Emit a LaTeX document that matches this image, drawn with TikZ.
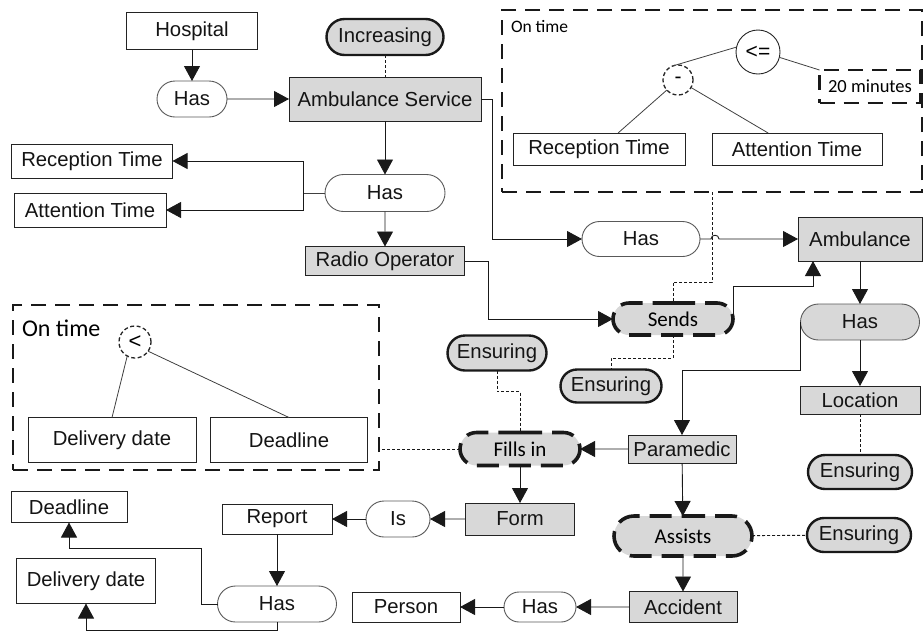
\documentclass[tikz,border=0pt]{standalone}
\usepackage{fontspec}
\setmainfont{Liberation Sans}
\newfontfamily\calib{Carlito}
\usetikzlibrary{arrows.meta,shapes.misc,calc}
\definecolor{boxgray}{RGB}{216,216,216}
\definecolor{edge}{RGB}{35,35,35}

\begin{document}
\begin{tikzpicture}[x=1pt,y=-1pt,
  every node/.style={inner sep=0pt, outer sep=0pt},
  lbl/.style={font=\fontsize{20.3}{24}\selectfont, text=black!92},
  wbox/.style={lbl, rectangle, draw=edge, line width=0.9pt, fill=white},
  gbox/.style={lbl, rectangle, draw=edge, line width=0.9pt, fill=boxgray},
  wpill/.style={lbl, rounded rectangle, draw=black!65, line width=0.9pt, fill=white},
  gpill/.style={lbl, rounded rectangle, draw=black!65, line width=0.9pt, fill=boxgray},
  goal/.style={lbl, rounded rectangle, draw=black!90, line width=2.4pt, fill=boxgray},
  act/.style={rounded rectangle, draw=black!90, line width=3.6pt, dash pattern=on 22pt off 10pt,
    fill=boxgray, font=\calib\fontsize{21}{24}\selectfont},
  frame/.style={rectangle, draw=black!90, line width=2.4pt, dash pattern=on 15pt off 9pt},
  opnode/.style={circle, draw=black!85, line width=0.9pt, font=\fontsize{21}{24}\selectfont},
  opdash/.style={opnode, dash pattern=on 4pt off 2.5pt, line width=1.3pt},
  arr/.style={-{Triangle[length=15pt,width=16pt]}, line width=0.9pt, draw=black!90},
  link/.style={line width=0.9pt, dash pattern=on 3pt off 2pt, draw=black!90},
  tie/.style={line width=0.8pt, draw=black!75},
]
\useasboundingbox (0,0) rectangle (923,630);

% condition frames
\node[frame, minimum width=420pt, minimum height=182pt] (topframe) at (712,101) {};
\node[frame, minimum width=366pt, minimum height=165pt] (leftframe) at (196,387.5) {};

% upper chain
\node[wbox, minimum width=131pt, minimum height=37pt] (hosp) at (192,31) {Hospital};
\node[wpill, minimum width=70pt, minimum height=36pt] (has1) at (192,99) {Has};
\node[goal, minimum width=117pt, minimum height=36pt] (inc) at (385,37) {Increasing};
\node[gbox, minimum width=192pt, minimum height=44pt] (as) at (385,99) {Ambulance Service};
\node[wpill, minimum width=120pt, minimum height=37pt] (has2) at (385,193) {Has};
\node[wbox, minimum width=161pt, minimum height=34pt] (rtl) at (92,161) {Reception Time};
\node[wbox, minimum width=152pt, minimum height=34pt] (atl) at (90,210) {Attention Time};
\node[gbox, minimum width=159pt, minimum height=29pt] (radio) at (385,261) {Radio Operator};

% on-time condition (top)
\node[anchor=west, font=\calib\fontsize{17.5}{20}\selectfont] (ontimeA) at (511,27) {On time};
\node[opnode, minimum size=44pt] (le) at (758,52) {<=};
\node[opdash, minimum size=30pt] (minus) at (678,80) {-};
\node[frame, minimum width=101pt, minimum height=33pt, font=\calib\fontsize{18.5}{20}\selectfont] (tmin) at (870,86.5) {20 minutes};
\node[wbox, minimum width=172pt, minimum height=32pt] (rti) at (599,149) {Reception Time};
\node[wbox, minimum width=170pt, minimum height=32pt] (ati) at (797,149) {Attention Time};
\draw[tie] (le.167) -- (minus.109);
\draw[tie] (le.-14) -- (tmin.north west);
\draw[tie] (minus.222) -- (rti.40);
\draw[tie] (minus.-30) -- (ati.151);

% ambulance branch
\node[wpill, minimum width=118pt, minimum height=35pt] (has3) at (641,239) {Has};
\node[gbox, minimum width=124pt, minimum height=44pt] (amb) at (860,239) {Ambulance};
\node[act, minimum width=120pt, minimum height=32pt] (sends) at (673,319) {Sends};
\node[gpill, minimum width=119pt, minimum height=36pt] (has4) at (860,322) {Has};
\node[gbox, minimum width=120pt, minimum height=28pt] (loc) at (860,400) {Location};
\node[goal, minimum width=104pt, minimum height=34pt] (ens3) at (860,472) {Ensuring};

% on-time condition (left)
\node[anchor=west, font=\calib\fontsize{24}{28}\selectfont] (ontimeB) at (22,328) {On time};
\node[opdash, minimum size=32pt, font=\fontsize{22}{24}\selectfont] (lt) at (135,342) {<};
\node[wbox, minimum width=168pt, minimum height=45pt] (dd1) at (112,440) {Delivery date};
\node[wbox, minimum width=157pt, minimum height=45pt] (dl1) at (289,440) {Deadline};
\draw[tie] (lt.241) -- (dd1.north);
\draw[tie] (lt.-35) -- (dl1.north);

% paramedic branch
\node[goal, minimum width=99pt, minimum height=35pt] (ens1) at (497,353) {Ensuring};
\node[goal, minimum width=101pt, minimum height=33pt] (ens2) at (611,386) {Ensuring};
\node[act, minimum width=120pt, minimum height=33pt] (fills) at (520,449) {Fills in};
\node[gbox, minimum width=108pt, minimum height=28pt] (para) at (682,449) {Paramedic};
\node[gbox, minimum width=109pt, minimum height=32pt] (form) at (520,519) {Form};
\node[wpill, minimum width=64pt, minimum height=36pt] (is) at (398,519) {Is};
\node[wbox, minimum width=110pt, minimum height=30pt] (report) at (277,519) {Report};
\node[wbox, minimum width=116pt, minimum height=31pt] (dl2) at (69,507) {Deadline};
\node[wbox, minimum width=139pt, minimum height=45pt] (dd2) at (86,581) {Delivery date};
\node[wpill, minimum width=119pt, minimum height=36pt] (has5) at (277,604) {Has};
\node[act, minimum width=138pt, minimum height=40pt] (assists) at (683,536) {Assists};
\node[goal, minimum width=104pt, minimum height=34pt] (ens4) at (859,535) {Ensuring};
\node[gbox, minimum width=108pt, minimum height=31pt] (acc) at (683,607) {Accident};
\node[wpill, minimum width=72pt, minimum height=30pt] (has6) at (540,607) {Has};
\node[wbox, minimum width=108pt, minimum height=30pt] (person) at (406,607) {Person};

% connectors
\coordinate (fork) at (303,193);
\coordinate (jump) at (715,239);
\coordinate (floor) at (0,630);

\draw[arr] (hosp) -- (has1);
\draw[arr] (has1) -- (as);
\draw[link] (inc) -- (as);
\draw[arr] (as) -- (has2);
\draw[tie] (has2.west) -- (fork);
\draw[arr] (fork) |- (rtl.east);
\draw[arr] (fork) |- (atl.east);
\draw[arr] (has2) -- (radio);
\draw[arr] (as.east) -- ++(11,0) |- (has3.west);
\draw[arr] (has3.east) -- ([xshift=-4pt]jump)
  .. controls ([xshift=-4pt,yshift=5pt]jump) and ([xshift=4pt,yshift=5pt]jump) .. ([xshift=4pt]jump)
  -- (amb.west);
\draw[arr] (amb) -- (has4);
\draw[arr] (has4) -- (loc);
\draw[link] (loc) -- (ens3);
\draw[arr] (radio.east) -- ++(24,0) |- (sends.west);
\draw[arr] (sends.east) -- ++(0,-33) -| ([xshift=15pt]amb.south west);
\draw[link] (topframe.south) -- ++(0,90) -| (sends.north);
\draw[link] (sends.south) -- ++(0,23) -| (ens2.north);
\draw[arr] (has4.west) -- ++(0,48) -| (para.north);
\draw[arr] (para) -- (fills);
\draw[link] (ens1.south) -- ++(0,21) -| (fills.north);
\draw[link] (fills.west) -- (fills.west -| leftframe.east);
\draw[arr] (fills) -- (form);
\draw[arr] (form) -- (is);
\draw[arr] (is) -- (report);
\draw[arr] (report) -- (has5);
\draw[arr] (has5.west) -- ++(-16,0) -- ++(0,-56) -| (dl2.south);
\draw[arr] (has5.south) -- (has5.south |- floor) -| (dd2.south);
\draw[arr] (para) -- (assists);
\draw[link] (assists) -- (ens4);
\draw[arr] (assists) -- (acc);
\draw[arr] (acc) -- (has6);
\draw[arr] (has6) -- (person);
\end{tikzpicture}
\end{document}
